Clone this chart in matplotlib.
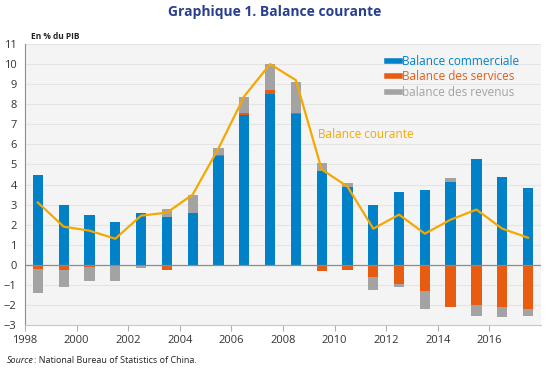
import matplotlib
matplotlib.use("Agg")
import matplotlib.pyplot as plt
import matplotlib.transforms as mtransforms
from matplotlib.lines import Line2D
import numpy as np

plt.rcParams['font.family'] = ['Open Sans', 'DejaVu Sans']

years = list(range(1998, 2018))
# en % du PIB
commerciale = [4.47, 2.97, 2.50, 2.12, 2.58, 2.37, 2.57, 5.42, 7.47, 8.53,
               7.50, 4.67, 3.87, 3.00, 3.62, 3.73, 4.13, 5.25, 4.38, 3.83]
services = [-0.20, -0.25, -0.12, 0.0, 0.0, -0.28, -0.05, 0.05, 0.07, 0.17,
            0.08, -0.30, -0.25, -0.62, -0.95, -1.33, -2.08, -2.02, -2.12, -2.20]
revenus = [-1.22, -0.87, -0.70, -0.83, -0.18, 0.43, 0.90, 0.35, 0.83, 1.30,
           1.55, 0.42, 0.22, -0.63, -0.18, -0.88, 0.17, -0.52, -0.50, -0.35]
courante = [3.1, 1.9, 1.7, 1.3, 2.45, 2.6, 3.5, 5.8, 8.4, 10.0,
            9.2, 4.75, 3.9, 1.8, 2.5, 1.55, 2.25, 2.75, 1.8, 1.35]

c_blue = '#0081c8'
c_orange = '#e85c12'
c_gray = '#a3a3a3'
c_line = '#f5a800'

fig = plt.figure(figsize=(5.5, 3.7), dpi=100)
ax = fig.add_axes([0.0455, 0.1216, 0.938, 0.7594])
ax.set_facecolor('#f4f4f4')

x = np.array(years) + 0.5
w = 0.4
com = np.array(commerciale)
srv = np.array(services)
rev = np.array(revenus)

ax.bar(x, com, w, color=c_blue, zorder=3)
# services: stacked on top of commerciale when positive, below zero when negative
srv_base = np.where(srv >= 0, com, 0)
ax.bar(x, srv, w, bottom=srv_base, color=c_orange, zorder=3)
# revenus: stacked after the previous pieces on the same side
pos_top = com + np.where(srv > 0, srv, 0)
neg_top = np.where(srv < 0, srv, 0)
rev_base = np.where(rev >= 0, pos_top, neg_top)
ax.bar(x, rev, w, bottom=rev_base, color=c_gray, zorder=3)

ax.plot(x, courante, color=c_line, lw=1.6, zorder=4)

ax.set_xlim(1998, 2018)
ax.set_ylim(-3, 11)
ax.set_yticks(range(-3, 12))
ax.yaxis.grid(True, color='#e4e4e4', lw=0.8, zorder=0)
ax.axhline(0, color='#8c8c8c', lw=0.9, zorder=5)

ax.set_xticks(range(1998, 2018, 2))
ax.set_xticklabels([str(y) for y in range(1998, 2018, 2)])
offset = mtransforms.ScaledTranslation(7 / 100, 0, fig.dpi_scale_trans)
for lab in ax.get_xticklabels():
    lab.set_transform(lab.get_transform() + offset)

ax.tick_params(axis='y', length=0, labelsize=8, labelcolor='#333333', pad=6)
ax.tick_params(axis='x', length=4, color='#b0b0b0', labelsize=8,
               labelcolor='#333333', pad=3)
for s in ['top', 'right']:
    ax.spines[s].set_visible(False)
ax.spines['left'].set_color('#8c8c8c')
ax.spines['bottom'].set_color('#c8c8c8')

handles = [Line2D([], [], color=c, lw=4) for c in (c_blue, c_orange, c_gray)]
ax.legend(handles, ['Balance commerciale', 'Balance des services',
                    'balance des revenus'],
          loc='upper left', bbox_to_anchor=(0.685, 0.99), frameon=False,
          handlelength=1.1, handletextpad=0.2, labelspacing=0.2,
          borderaxespad=0.3, fontsize=8.5,
          labelcolor=[c_blue, c_orange, c_gray])

ax.text(2009.35, 6.5, 'Balance courante', color=c_line, fontsize=8.5,
        ha='left', va='center')

fig.text(0.5, 0.967, 'Graphique 1. Balance courante', ha='center', va='center',
         fontsize=10, fontweight='bold', color='#283e8e')
fig.text(0.057, 0.902, 'En % du PIB', ha='left', va='center', fontsize=6,
         fontweight='bold', color='#222222')
fig.text(0.013, 0.027, 'Source', ha='left', va='center', fontsize=6.5,
         style='italic', color='#222222')
fig.text(0.062, 0.027, ': National Bureau of Statistics of China.', ha='left',
         va='center', fontsize=6.5, color='#222222')

fig.savefig('out.png', dpi=100)
